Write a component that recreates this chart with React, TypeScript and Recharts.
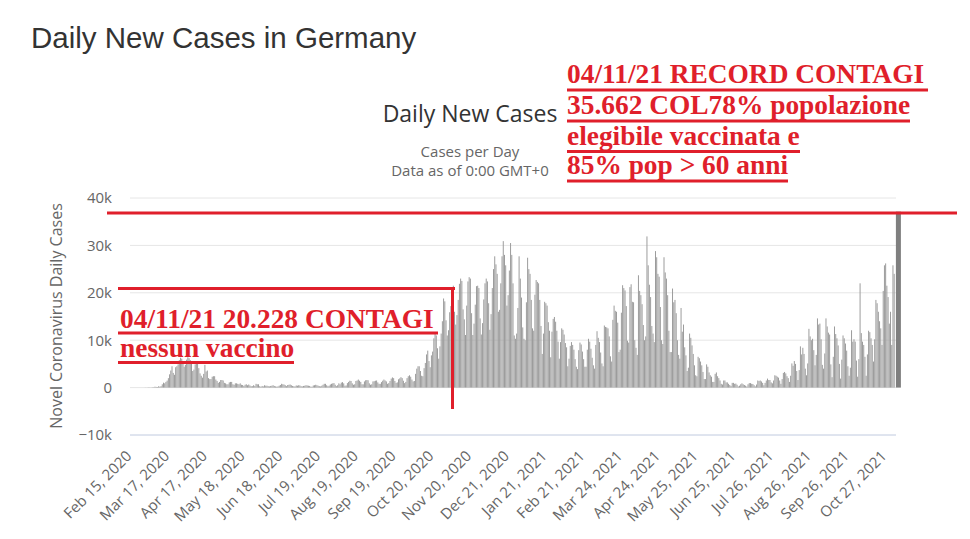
import { BarChart, Bar, XAxis, YAxis, CartesianGrid } from "recharts"

// one label every 31 days, starting on the first day of data
const tickLabels = [
    "Feb 15, 2020", "Mar 17, 2020", "Apr 17, 2020", "May 18, 2020", "Jun 18, 2020",
    "Jul 19, 2020", "Aug 19, 2020", "Sep 19, 2020", "Oct 20, 2020", "Nov 20, 2020",
    "Dec 21, 2020", "Jan 21, 2021", "Feb 21, 2021", "Mar 24, 2021", "Apr 24, 2021",
    "May 25, 2021", "Jun 25, 2021", "Jul 26, 2021", "Aug 26, 2021", "Sep 26, 2021",
    "Oct 27, 2021",
]
const LABEL_STEP = 31

// daily new cases, one row per week (Sat..Fri)
// Feb 15 – May 1, 2020
const wave2020Spring = [
    0, 0, 0, 0, 0, 0, 0,
    0, 0, 0, 1, 4, 20, 10,
    25, 57, 28, 40, 60, 90, 190,
    150, 120, 280, 190, 300, 700, 1040,
    910, 1210, 1480, 1990, 2800, 3600, 4500,
    3100, 2700, 4300, 4500, 4900, 5800, 6300,
    6100, 5000, 4400, 4800, 5900, 6400, 6200,
    5800, 5100, 3500, 3800, 4900, 5300, 5100,
    4100, 3000, 2500, 2100, 2900, 4800, 3400,
    3600, 2000, 1800, 1800, 2300, 2400, 2400,
    1700, 1400, 1000, 1200, 1600, 1600, 1500,
]

// May 2 – Oct 2, 2020
const summer2020 = [
    1000, 900, 700, 700, 1100, 1200, 1200,
    700, 600, 900, 900, 800, 700, 900,
    600, 550, 350, 600, 700, 500, 650,
    450, 300, 300, 500, 350, 800, 700,
    700, 300, 200, 350, 250, 500, 400,
    400, 300, 250, 350, 400, 500, 350,
    250, 200, 250, 400, 550, 800, 700,
    650, 500, 300, 550, 600, 650, 500,
    350, 280, 250, 450, 400, 500, 450,
    300, 250, 350, 400, 500, 450, 400,
    350, 200, 200, 450, 500, 600, 500,
    400, 300, 250, 400, 600, 800, 800,
    500, 300, 400, 650, 800, 900, 950,
    600, 300, 500, 900, 700, 1050, 1150,
    900, 400, 450, 950, 1200, 1450, 1400,
    900, 600, 700, 1400, 1500, 1700, 1450,
    1200, 700, 700, 1300, 1550, 1600, 1550,
    900, 600, 700, 1300, 1350, 1450, 1500,
    1100, 800, 800, 1150, 1450, 1700, 1500,
    1300, 800, 950, 1400, 1900, 2150, 2000,
    1400, 1000, 1100, 1750, 1950, 2200, 2000,
    1450, 950, 1200, 2000, 2400, 2600, 2300,
]

// Oct 3, 2020 – Feb 5, 2021
const wave2020Autumn = [
    1700, 1300, 1400, 2900, 4000, 4500, 4500,
    3500, 2500, 2400, 4100, 5200, 7000, 7800,
    5600, 4300, 6800, 7600, 10400, 11300, 11000,
    8300, 6100, 8700, 11400, 14000, 18800, 18200,
    14200, 11000, 12100, 15900, 17200, 19900, 21500,
    16000, 13300, 15300, 18500, 21900, 23000, 22500,
    16500, 14400, 11100, 17300, 22400, 23300, 23000,
    15700, 11100, 13500, 17500, 21400, 21500, 21000,
    14600, 11200, 13600, 18600, 22000, 23000, 22400,
    17800, 12200, 15500, 21000, 25000, 27700, 26000,
    24000, 16000, 16400, 22000, 27700, 30900, 28000,
    25800, 17300, 19500, 24700, 30500, 28000, 22000,
    11000, 10300, 11400, 16800, 27700, 23000, 19000,
    12700, 10300, 10000, 18000, 27400, 25000, 24000,
    18500, 12500, 12000, 19600, 22700, 22300, 22000,
    18500, 13000, 7100, 11400, 18100, 17800, 17300,
    13800, 12000, 6400, 11800, 14500, 14900, 13900,
    12000, 9700, 6100, 9600, 12500, 12200, 11200,
]

// Feb 6 – May 28, 2021
const wave2021Spring = [
    9400, 8500, 4500, 6100, 8800, 9600, 9000,
    8000, 6000, 4400, 3900, 7900, 9500, 9100,
    7600, 6000, 4400, 4400, 8000, 10300, 9700,
    8200, 6300, 4700, 4000, 9000, 11900, 10500,
    9600, 7400, 5100, 4500, 13100, 12800, 12700,
    12500, 10800, 6600, 5500, 14300, 17300, 16200,
    16000, 13700, 7500, 8000, 15800, 21600, 21000,
    20500, 17200, 9900, 9500, 21200, 21800, 18100,
    18000, 10000, 8400, 6900, 23700, 20400, 19500,
    17600, 13200, 10000, 10800, 31900, 25800, 21700,
    19100, 13000, 11400, 9600, 28800, 27500, 24000,
    23400, 17000, 10000, 9200, 27500, 24300, 23000,
    19500, 12000, 7500, 7500, 20900, 18000, 18500,
    15700, 10000, 6900, 6100, 16800, 11800, 13300,
    8500, 6800, 3500, 4200, 11400, 10500, 8900,
    7100, 4700, 2600, 2400, 6500, 6200, 5500,
]

// May 29 – Aug 27, 2021
const summer2021 = [
    4700, 3300, 1800, 1800, 4900, 4400, 3200,
    2600, 2300, 1200, 1200, 2900, 3200, 2400,
    2000, 1500, 800, 650, 1500, 1500, 1100,
    1100, 800, 550, 350, 1000, 1000, 800,
    850, 600, 250, 400, 700, 900, 700,
    550, 400, 230, 700, 950, 950, 800,
    750, 500, 250, 650, 1500, 1400, 1500,
    1300, 1000, 500, 1000, 1500, 1900, 1600,
    1600, 1100, 900, 1500, 2600, 2500, 2300,
    2100, 1500, 800, 1800, 3100, 3300, 3000,
    2400, 2000, 1200, 2500, 5100, 4600, 5600,
    5000, 3500, 1600, 3700, 8700, 7000, 8400,
    7100, 4000, 2600, 5100, 12400, 10800, 10000,
]

// Aug 28 – Nov 4, 2021
const wave2021Autumn = [
    10300, 7900, 4700, 6900, 14600, 13300, 13500,
    10200, 4800, 4000, 7200, 14600, 12900, 11600,
    11200, 4900, 2200, 6500, 12900, 11300, 10400,
    8900, 5000, 1900, 5900, 11000, 10400, 9300,
    7800, 4500, 2500, 4200, 12100, 9700, 10200,
    9700, 5700, 2300, 6000, 22000, 11500, 9700,
    9000, 6500, 2500, 7000, 12000, 11700, 10400,
    9000, 5500, 10200, 18500, 17800, 16000, 14000,
    12500, 9000, 20400, 25800, 26200, 21500, 19100,
    13500, 16000, 9000, 25800, 24000, 37120,
]

const yTicks = [-10000, 0, 10000, 20000, 30000, 40000]

const allCases = [
    ...wave2020Spring,
    ...summer2020,
    ...wave2020Autumn,
    ...wave2021Spring,
    ...summer2021,
    ...wave2021Autumn,
]
const chartData = allCases.map((cases, day) => ({ day, cases }))
const LAST_DAY = allCases.length - 1

const SANS = "'Open Sans', 'DejaVu Sans', sans-serif"
const SERIF = "'Liberation Serif', 'Times New Roman', serif"
const RED = "#e01f2b"

function formatK(v: number) {
    if (v === 0) return "0"
    return (v < 0 ? "\u2212" : "") + Math.abs(v / 1000) + "k"
}

function DateTick({ x, y, payload }: any) {
    const label = tickLabels[Math.round(payload.value / LABEL_STEP)]
    const tx = x + 2
    const ty = y + 22
    return (
        <text
            x={tx}
            y={ty}
            transform={`rotate(-45 ${tx} ${ty})`}
            textAnchor="end"
            fill="#666"
            fontSize={15}
            fontFamily={SANS}
        >
            {label}
        </text>
    )
}

function CaseBar(props: any) {
    const { x, y, width, height, payload } = props
    if (!height || height <= 0) return null
    // last day is shown highlighted (hover state)
    if (payload && payload.day === LAST_DAY) {
        return <rect x={x + 1} y={y} width={5} height={height} fill="#7f7f7f" />
    }
    return <rect x={x} y={y} width={width} height={height} fill="#9a9a9a" />
}

export default function App() {
    return (
        <div
            style={{
                position: "absolute",
                left: 0,
                top: 0,
                width: 970,
                height: 539,
                background: "#fff",
                overflow: "hidden",
            }}
        >
            <BarChart
                width={970}
                height={539}
                data={chartData}
                margin={{ top: 198, right: 74, bottom: 4, left: 0 }}
                barCategoryGap="10%"
            >
                <CartesianGrid vertical={false} stroke="#e6e6e6" />
                <XAxis
                    dataKey="day"
                    interval={LABEL_STEP - 1}
                    height={100}
                    tickSize={0}
                    tickMargin={0}
                    tickLine={false}
                    axisLine={{ stroke: "#ccd6eb" }}
                    tick={DateTick}
                />
                <YAxis
                    type="number"
                    domain={[-10000, 40000]}
                    ticks={yTicks}
                    width={130}
                    tickSize={0}
                    tickMargin={18}
                    tickLine={false}
                    axisLine={false}
                    tickFormatter={formatK}
                    tick={{ fill: "#666", fontSize: 15, fontFamily: SANS }}
                />
                <Bar
                    dataKey="cases"
                    isAnimationActive={false}
                    shape={(p: any) => <CaseBar {...p} />}
                />
            </BarChart>

            <svg
                width={970}
                height={539}
                style={{ position: "absolute", left: 0, top: 0, pointerEvents: "none" }}
            >
                {/* titles */}
                <text x={31} y={48} fontSize={29.5} fill="#333" fontFamily="'Liberation Sans', Arial, sans-serif">
                    Daily New Cases in Germany
                </text>
                <text x={470} y={122} textAnchor="middle" fontSize={23} fill="#333" fontFamily={SANS}>
                    Daily New Cases
                </text>
                <text x={470} y={157} textAnchor="middle" fontSize={15} fill="#666" fontFamily={SANS}>
                    Cases per Day
                </text>
                <text x={470} y={176} textAnchor="middle" fontSize={15} fill="#666" fontFamily={SANS}>
                    Data as of 0:00 GMT+0
                </text>
                <text
                    transform="translate(62 316) rotate(-90)"
                    textAnchor="middle"
                    fontSize={16}
                    fill="#666"
                    fontFamily={SANS}
                >
                    Novel Coronavirus Daily Cases
                </text>

                {/* hand drawn annotations */}
                <g fill={RED} fontFamily={SERIF} fontWeight="bold" fontSize={27.4}>
                    <text x={567} y={83}>04/11/21 RECORD CONTAGI</text>
                    <text x={567} y={114}>35.662 COL78% popolazione</text>
                    <text x={567} y={145}>elegibile vaccinata e</text>
                    <text x={567} y={174}>85% pop &gt; 60 anni</text>
                    <text x={120} y={328}>04/11/21 20.228 CONTAGI</text>
                    <text x={120} y={357}>nessun vaccino</text>
                </g>
                <g stroke={RED} strokeWidth={3}>
                    <line x1={567} y1={90} x2={928} y2={90} />
                    <line x1={567} y1={121} x2={910} y2={121} />
                    <line x1={567} y1={151.5} x2={800} y2={151.5} />
                    <line x1={567} y1={181} x2={788} y2={181} />
                    <line x1={118} y1={333} x2={438} y2={333} />
                    <line x1={118} y1={362.5} x2={294} y2={362.5} />
                    <line x1={107} y1={213} x2={957} y2={213} />
                    <line x1={118} y1={288.5} x2={455} y2={288.5} />
                    <line x1={452.5} y1={287} x2={452.5} y2={409} />
                </g>
            </svg>
        </div>
    )
}
